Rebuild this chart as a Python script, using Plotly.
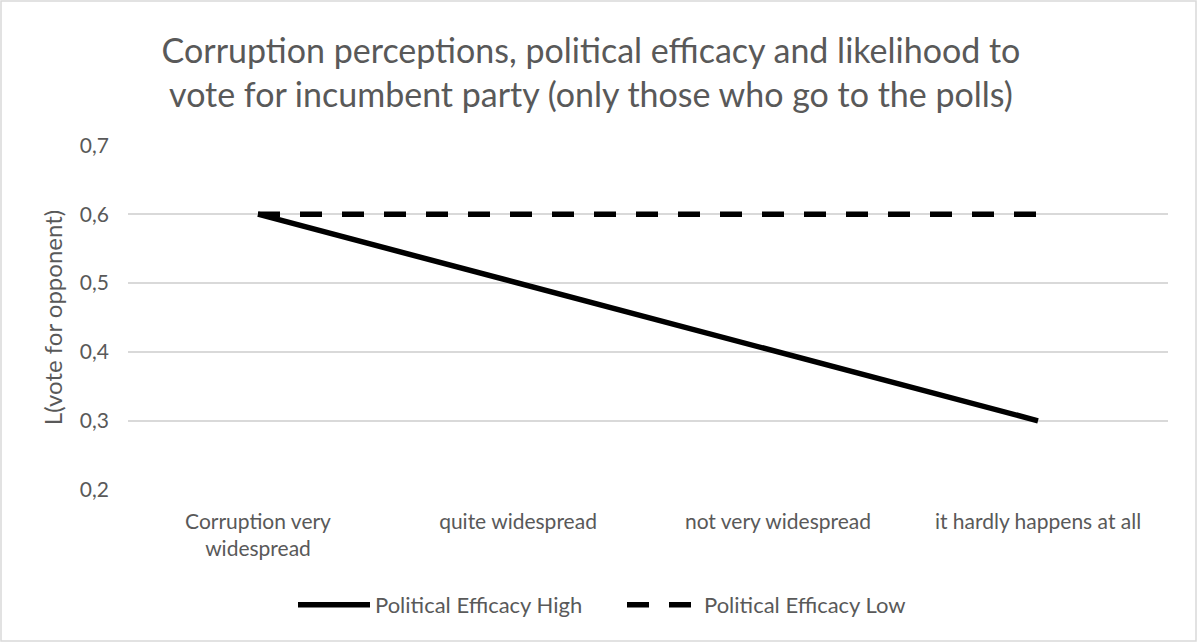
import plotly.graph_objects as go

categories = ["Corruption very<br>widespread", "quite widespread", "not very widespread", "it hardly happens at all"]
high = [0.6, 0.5, 0.4, 0.3]
low = [0.6, 0.6, 0.6, 0.6]
y_ticks = [0.2, 0.3, 0.4, 0.5, 0.6, 0.7]
y_labels = ["0,2", "0,3", "0,4", "0,5", "0,6", "0,7"]

W, H = 1198, 643
L, R, T, B = 128, 30, 145, 153

fig = go.Figure()
fig.add_trace(go.Scatter(x=categories, y=high, mode="lines", name="Political Efficacy High",
                         line=dict(color="black", width=5.5)))
fig.add_trace(go.Scatter(x=categories, y=low, mode="lines", name="Political Efficacy Low",
                         line=dict(color="black", width=5.5, dash="22px,20px")))

pw, ph = W - L - R, H - T - B
fig.add_shape(type="rect", xref="paper", yref="paper",
              x0=(1 - L) / pw, x1=(W - 2 - L) / pw,
              y0=-(H - 2 - T - ph) / ph, y1=(T - 1) / ph + 1,
              line=dict(color="#d9d9d9", width=1.5), fillcolor="rgba(0,0,0,0)", layer="below")

fig.update_layout(
    width=W, height=H,
    margin=dict(l=L, r=R, t=T, b=B),
    paper_bgcolor="white", plot_bgcolor="white",
    font=dict(family="Lato, 'Open Sans', sans-serif", color="#595959"),
    title=dict(text="Corruption perceptions, political efficacy and likelihood to<br>vote for incumbent party (only those who go to the polls)",
               x=591 / W, xref="container", xanchor="center", y=1 - 63 / H, yanchor="middle",
               font=dict(size=34, color="#595959")),
    xaxis=dict(showgrid=False, showline=False, ticks="", tickfont=dict(size=21),
               range=[-0.5, 3.5], ticklabelstandoff=17),
    yaxis=dict(range=[0.1995, 0.7005], tickvals=y_ticks, ticktext=y_labels,
               showgrid=True, gridcolor="#d9d9d9", gridwidth=1.5, zeroline=False,
               showline=False, ticks="", tickfont=dict(size=21), ticklabelstandoff=18,
               title=dict(text="L(vote for opponent)", font=dict(size=24), standoff=10)),
    legend=dict(orientation="h", x=293 / W, xanchor="left", xref="container",
                y=(H - 605) / H, yref="container", yanchor="middle",
                font=dict(size=22, color="#595959"), itemwidth=72, entrywidth=242),
    showlegend=True,
)

fig.write_html("out.html")
